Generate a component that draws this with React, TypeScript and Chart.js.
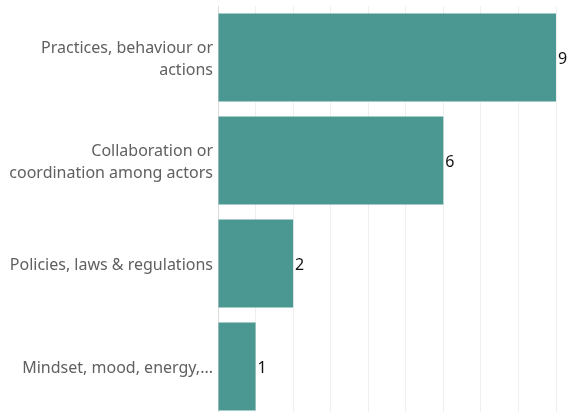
import React, { useEffect, useRef } from "react";
import { Chart, registerables } from "chart.js";

Chart.register(...registerables);

const categories: string[][] = [
  ["Practices, behaviour or", "actions"],
  ["Collaboration or", "coordination among actors"],
  ["Policies, laws & regulations"],
  ["Mindset, mood, energy,..."],
];
const counts: number[] = [9, 6, 2, 1];

const FONT = "'Noto Sans', sans-serif";

const valueLabels = {
  id: "valueLabels",
  afterDatasetsDraw(chart: any) {
    const ctx = chart.ctx;
    const meta = chart.getDatasetMeta(0);
    ctx.save();
    ctx.fillStyle = "#111";
    ctx.font = `16px ${FONT}`;
    ctx.textAlign = "left";
    ctx.textBaseline = "middle";
    meta.data.forEach((bar: any, i: number) => {
      ctx.fillText(String(chart.data.datasets[0].data[i]), bar.x + 2, bar.y + 2);
    });
    ctx.restore();
  },
};

export default function App() {
  const ref = useRef<HTMLCanvasElement | null>(null);
  useEffect(() => {
    if (!ref.current) return;
    const chart = new Chart(ref.current, {
      type: "bar",
      data: {
        labels: categories,
        datasets: [
          {
            data: counts,
            backgroundColor: "#4b9892",
            borderWidth: 0,
            barPercentage: 0.855,
            categoryPercentage: 1,
          },
        ],
      },
      options: {
        indexAxis: "y",
        animation: false,
        responsive: false,
        maintainAspectRatio: false,
        layout: { padding: { top: 6, right: 21, bottom: 0, left: 0 } },
        plugins: { legend: { display: false }, tooltip: { enabled: false } },
        scales: {
          x: {
            min: 0,
            max: 9,
            ticks: { display: false, stepSize: 1 },
            grid: {
              drawTicks: false,
              color: (c: any) => (c.index === 0 ? "#dcdcdc" : "#efefef"),
              lineWidth: 1,
            },
            border: { display: false },
            afterFit: (axis: any) => {
              axis.height = 0;
              axis.paddingLeft = 0;
              axis.paddingRight = 0;
              axis.paddingTop = 0;
              axis.paddingBottom = 0;
            },
          },
          y: {
            grid: { display: false, drawTicks: false },
            border: { display: true, color: "#dcdcdc" },
            ticks: {
              color: "#606060",
              padding: 5,
              labelOffset: 2,
              font: { family: FONT, size: 16, lineHeight: 1.38 },
            },
            afterFit: (axis: any) => {
              axis.width = 218;
              axis.paddingTop = 0;
              axis.paddingBottom = 0;
            },
          },
        },
      },
      plugins: [valueLabels],
    });
    return () => chart.destroy();
  }, []);
  return (
    <div style={{ position: "fixed", left: 0, top: 0, width: 577, height: 418 }}>
      <canvas ref={ref} width={577} height={418} style={{ display: "block" }} />
    </div>
  );
}
